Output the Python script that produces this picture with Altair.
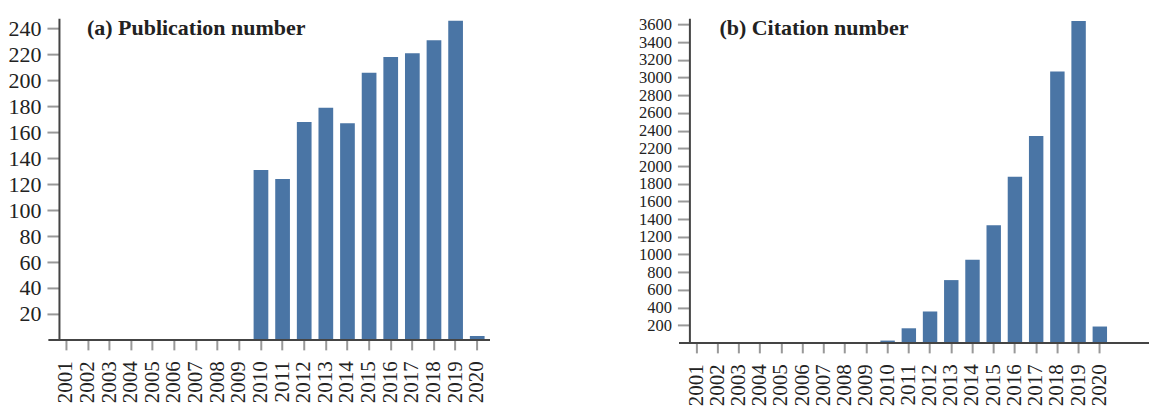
import altair as alt
import pandas as pd

years = [str(y) for y in range(2001, 2021)]
publications = [0, 0, 0, 0, 0, 0, 0, 0, 0, 131, 124, 168, 179, 167, 206, 218, 221, 231, 246, 3]
citations = [0, 0, 0, 0, 0, 0, 0, 0, 0, 26, 165, 355, 710, 940, 1330, 1880, 2340, 3070, 3640, 185]
pub_ticks = list(range(20, 241, 20))
cit_ticks = list(range(200, 3601, 200))

df_a = pd.DataFrame({"year": years, "value": publications})
df_b = pd.DataFrame({"year": years, "value": citations})

BAR = "#4a75a5"
FONT = "Liberation Serif"


def panel(df, title, ymax, ticks, w, h, ylabel_size, ypad, ext_right, tx):
    xenc = alt.X("year:N", sort=years,
                 scale=alt.Scale(paddingInner=0.32, paddingOuter=0),
                 axis=alt.Axis(title=None, labelAngle=270, labelFontSize=21,
                               tickSize=10, labelPadding=11, domain=False))
    yscale = alt.Scale(domain=[0, ymax], nice=False)
    bars = alt.Chart(df).mark_bar(color=BAR).encode(
        x=xenc,
        y=alt.Y("value:Q", scale=yscale,
                axis=alt.Axis(title=None, values=ticks, format="d",
                              labelFontSize=ylabel_size,
                              tickSize=12, labelPadding=ypad)),
    )
    base_rule = alt.Chart(df).mark_rule(color="#444", strokeWidth=2).encode(
        x=alt.value(-10), x2=alt.value(w + ext_right), y=alt.value(h)
    )
    txt = alt.Chart(pd.DataFrame({"t": [title]})).mark_text(
        font=FONT, fontSize=22, fontWeight="bold", align="left",
        baseline="middle", color="#222"
    ).encode(text="t:N", x=alt.value(tx), y=alt.value(10))
    return alt.layer(bars, base_rule, txt).properties(width=w, height=h)


left = panel(df_a, "(a) Publication number", 248, pub_ticks, 426, 322, 22, 6, 5, 28)
right = panel(df_b, "(b) Citation number", 3672, cit_ticks, 418, 325, 16.5, 6, 42, 30)

chart = alt.hconcat(left, right, spacing=148).configure_axis(
    labelFont=FONT, labelColor="#222", domainColor="#444", domainWidth=2,
    tickColor="#999", tickWidth=2, grid=False
).configure_view(stroke=None).properties(
    padding={"left": 0, "top": 8, "right": 0, "bottom": 0}
)

chart.save("out.html", embed_options={"renderer": "svg", "actions": False})
